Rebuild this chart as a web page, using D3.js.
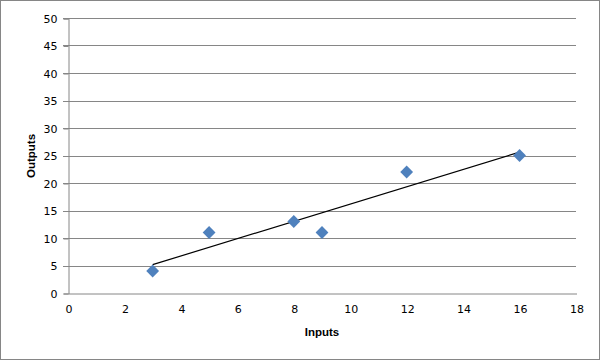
<!DOCTYPE html>
<html><head><meta charset="utf-8">
<script src="https://cdn.jsdelivr.net/npm/d3@7"></script>
<style>body{margin:0;background:#fff}svg{display:block}</style>
</head><body>
<script>
const inputs = [3, 5, 8, 9, 12, 16];
const outputs = [4, 11, 13, 11, 22, 25];
const xTicks = [0, 2, 4, 6, 8, 10, 12, 14, 16, 18];
const yTicks = [0, 5, 10, 15, 20, 25, 30, 35, 40, 45, 50];

const W = 601, H = 361;
const svg = d3.select("body").append("svg").attr("width", W).attr("height", H);
svg.append("rect").attr("x", 0.5).attr("y", 0.5).attr("width", 599).attr("height", 359)
  .attr("fill", "#fff").attr("stroke", "#868686");

const x = d3.scaleLinear().domain([0, 18]).range([68, 576]);
const y = d3.scaleLinear().domain([0, 50]).range([293, 18]);
const grid = "#868686";
const font = "DejaVu Sans, Verdana, sans-serif";

// gridlines
svg.append("g").selectAll("line").data(yTicks.filter(d => d > 0)).join("line")
  .attr("x1", x(0) - 5).attr("x2", x(18))
  .attr("y1", d => Math.round(y(d)) + 0.5).attr("y2", d => Math.round(y(d)) + 0.5)
  .attr("stroke", grid).attr("stroke-width", 1);

// y axis
const yAxis = svg.append("g").attr("transform", `translate(${x(0) + 0.5},0.5)`)
  .call(d3.axisLeft(y).tickValues(yTicks).tickSize(5).tickPadding(6).tickFormat(d3.format("d")));
yAxis.select(".domain").attr("stroke", grid);
yAxis.selectAll(".tick line").attr("stroke", grid);
yAxis.selectAll("text").attr("font-family", font).attr("font-size", 11).attr("fill", "#000");

// x axis
const xAxis = svg.append("g").attr("transform", `translate(0.5,${Math.round(y(0)) + 0.5})`)
  .call(d3.axisBottom(x).tickValues(xTicks).tickSize(0).tickPadding(12).tickFormat(d3.format("d")));
xAxis.select(".domain").attr("stroke", grid);
xAxis.selectAll("text").attr("font-family", font).attr("font-size", 11).attr("fill", "#000");

// trend line (least squares)
const n = inputs.length;
const mx = d3.mean(inputs), my = d3.mean(outputs);
const slope = d3.sum(inputs, (v, i) => (v - mx) * (outputs[i] - my)) / d3.sum(inputs, v => (v - mx) ** 2);
const icpt = my - slope * mx;
const ext = d3.extent(inputs);
svg.append("line")
  .attr("x1", x(ext[0])).attr("y1", y(icpt + slope * ext[0]))
  .attr("x2", x(ext[1])).attr("y2", y(icpt + slope * ext[1]))
  .attr("stroke", "#000").attr("stroke-width", 1.2);

// markers
svg.append("g").selectAll("path").data(inputs).join("path")
  .attr("d", d3.symbol(d3.symbolSquare, 82))
  .attr("transform", (d, i) => `translate(${x(d)},${y(outputs[i])}) rotate(45)`)
  .attr("fill", "#4F81BD");

// axis titles
svg.append("text").attr("x", 322).attr("y", 336).attr("text-anchor", "middle")
  .attr("font-family", "Liberation Sans, Arial, sans-serif").attr("font-weight", "bold").attr("font-size", 11.5)
  .text("Inputs");
svg.append("text").attr("transform", `translate(35,156) rotate(-90)`).attr("text-anchor", "middle")
  .attr("font-family", "Liberation Sans, Arial, sans-serif").attr("font-weight", "bold").attr("font-size", 11.5)
  .text("Outputs");
</script>
</body></html>
